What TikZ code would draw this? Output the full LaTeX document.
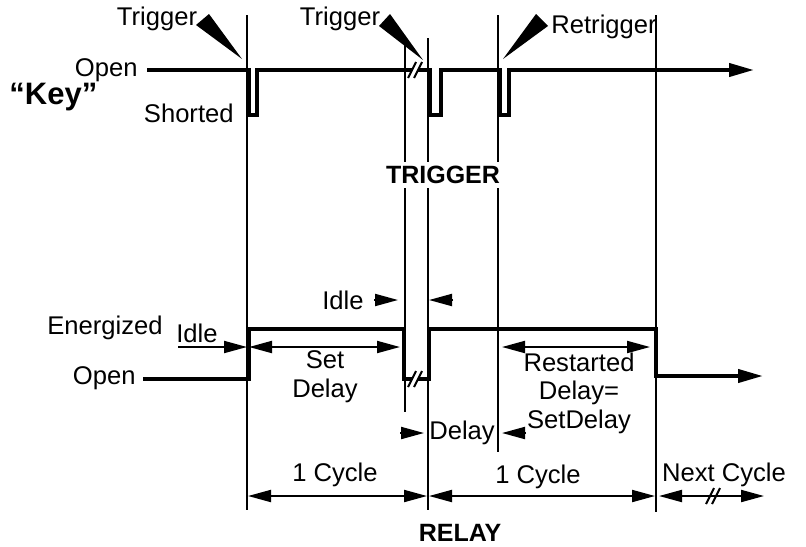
\documentclass[tikz,border=0pt]{standalone}
\usepackage{fontspec}
\setmainfont{Liberation Sans}
\usetikzlibrary{arrows.meta}

\begin{document}
\begin{tikzpicture}[x=0.5pt,y=-0.5pt,
  txt/.style={font=\fontsize{12.8}{14.3}\selectfont,inner sep=0pt,align=center},
  bold/.style={font=\fontsize{12.5}{15}\selectfont\bfseries,inner sep=0pt},
  sig/.style={line width=2pt},
  grid/.style={line width=1pt},
  brk/.style={line width=1pt},
  dim/.style={line width=1pt,{Triangle[length=11.5pt,width=6pt]}-{Triangle[length=11.5pt,width=6pt]}},
  pointer/.style={line width=1pt,-{Triangle[length=11.5pt,width=6pt]}},
  sigend/.style={-{Triangle[length=12.5pt,width=6.5pt]}},
  wedge/.style={fill=black}
]
  \useasboundingbox (0,0) rectangle (806,546);

  % vertical time marks
  \foreach \x/\ya/\yb in {247/15/510, 405/43/412, 428/38/510, 498/15/452, 656/15/512}
    \draw[grid] (\x,\ya) -- (\x,\yb);

  % key signal
  \node[txt,anchor=east] (kopen) at (138,70) {Open};
  \node[bold,font=\fontsize{15.5}{18}\selectfont\bfseries,anchor=west] (key) at (9,97) {``Key''};
  \node[txt,anchor=east] (short) at (234,113) {Shorted};
  \draw[sig] (147,70) -- (249,70) -- (249,115) -- (257,115) -- (257,70) -- (412,70);
  \draw[sig,sigend] (418,70) -- (430,70) -- (430,115) -- (441,115) -- (441,70)
    -- (500,70) -- (500,115) -- (509,115) -- (509,70) -- (754,70);
  \draw[brk] (408,78) -- (416,62) (414,78) -- (422,62);

  % trigger markers
  \node[txt] (trig1) at (157,19) {Trigger};
  \fill[wedge] (196,25) -- (209,14) -- (242,59) -- cycle;
  \node[txt] (trig2) at (340,19) {Trigger};
  \fill[wedge] (379,26) -- (390,14) -- (423,60) -- cycle;
  \node[txt,anchor=west] (retrig) at (551,27) {Retrigger};
  \fill[wedge] (536,14) -- (548,26) -- (503,59) -- cycle;

  \node[bold,fill=white,inner sep=2pt] (trigger) at (443,175) {TRIGGER};

  % relay signal
  \node[txt,anchor=east] (ener) at (163,328) {Energized};
  \node[txt,anchor=east] (ropen) at (136,378) {Open};
  \draw[sig] (143,379) -- (249,379) -- (249,329) -- (404,329) -- (404,379) -- (412,379);
  \draw[sig,sigend] (418,379) -- (429,379) -- (429,329) -- (656,329) -- (656,376) -- (763,376);
  \draw[brk] (408,387) -- (416,371) (414,387) -- (422,371);

  % idle and delay marks
  \node[txt] (idle1) at (197,333) {Idle};
  \draw[pointer] (178,347) -- (247,347);
  \draw[dim] (249,347) -- (400,347);
  \node[txt] (setdel) at (325,377) {Set\\Delay};
  \node[txt] (idle2) at (343,300) {Idle};
  \draw[pointer] (374,300) -- (398,300);
  \draw[pointer] (453,300) -- (429,300);
  \node[txt] (delay) at (462,433) {Delay};
  \draw[pointer] (400,433) -- (424,433);
  \draw[pointer] (526,433) -- (502,433);
  \draw[dim] (502,347) -- (650,347);
  \node[txt] (restart) at (579,393) {Restarted\\Delay=\\SetDelay};

  % cycles
  \draw[dim] (248,496) -- (427,496);
  \draw[dim] (429,496) -- (655,496);
  \draw[dim] (659,496) -- (764,496);
  \draw[brk] (706,504) -- (714,488) (712,504) -- (720,488);
  \node[txt] (cyc1) at (335,475) {1 Cycle};
  \node[txt] (cyc2) at (538,477) {1 Cycle};
  \node[txt] (next) at (724,475) {Next Cycle};
  \node[bold] (relay) at (460,533) {RELAY};
\end{tikzpicture}
\end{document}
